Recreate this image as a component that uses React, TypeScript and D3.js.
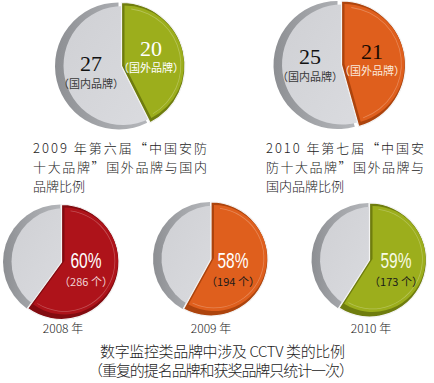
import React from "react";
import * as d3 from "d3";

// ---- data ----
const topForeign = [20, 21];
const topDomestic = [27, 25];
const topForeignLabel = "（国外品牌）";
const topDomesticLabel = "（国内品牌）";
const topCaptions = [
  ["2009 年第六届“中国安防", "十大品牌”国外品牌与国内", "品牌比例"],
  ["2010 年第七届“中国安", "防十大品牌”国外品牌与", "国内品牌比例"],
];
const bottomYears = ["2008 年", "2009 年", "2010 年"];
const bottomPct = [60, 58, 59];
const bottomCount = [286, 194, 173];
const bottomCaption = ["数字监控类品牌中涉及 CCTV 类的比例", "（重复的提名品牌和获奖品牌只统计一次）"];

// ---- styles ----
const OLIVE = ["#9cae1c", "#6f7d0e"];
const ORANGE = ["#df5f1d", "#ad440d"];
const RED = ["#ae131a", "#820b10"];

const serif = "'Liberation Serif', 'DejaVu Serif', serif";
const sans = "'Liberation Sans', Arial, sans-serif";
const cjk = "'Noto Sans CJK SC', 'Noto Sans', sans-serif";

type PieProps = {
  cx: number; cy: number; r: number; values: number[];
  colors: string[]; explode: number; id: string;
};

function Pie3D({ cx, cy, r, values, colors, explode, id }: PieProps) {
  const pie = d3.pie<number>().sort(null).value((d) => d)(values);
  const colored = pie[0];
  const gray = pie[1];
  const sideArc = d3.arc<any>().innerRadius(0).outerRadius(r);
  const grayFace = d3.arc<any>().innerRadius(0).outerRadius(r - 4);
  const colFace = d3.arc<any>().innerRadius(0).outerRadius(r - 4);
  const hlArc = d3.arc<any>().innerRadius(r - 7.5).outerRadius(r - 6.7)
    .startAngle(colored.startAngle + 0.12).endAngle(colored.endAngle - 0.06);
  return (
    <g>
      <defs>
        <linearGradient id={`gs${id}`} x1="0" x2="1" y1="0" y2="0">
          <stop offset="0" stopColor="#8d8f93" />
          <stop offset="0.5" stopColor="#a3a5a9" />
          <stop offset="1" stopColor="#b4b6ba" />
        </linearGradient>
        <linearGradient id={`gf${id}`} x1="0" x2="1" y1="0" y2="1">
          <stop offset="0" stopColor="#cfd0d4" />
          <stop offset="1" stopColor="#dadbdf" />
        </linearGradient>
      </defs>
      <g transform={`translate(${cx},${cy})`}>
        <path d={sideArc(gray) as string} fill={`url(#gs${id})`} />
        <path d={grayFace(gray) as string} transform="translate(4.5,-0.5)" fill={`url(#gf${id})`} />
      </g>
      <g transform={`translate(${cx + explode},${cy})`}>
        <path d={sideArc(colored) as string} fill={colors[1]} stroke="#f4f4f4" strokeWidth={1.2} />
        <path d={colFace(colored) as string} transform="translate(3,-1)" fill={colors[0]} />
        <path d={hlArc(colored as any) as string} transform="translate(3,-1)" fill="#ffffff" opacity={0.25} />
      </g>
    </g>
  );
}

export default function App() {
  const topPies = [
    { cx: 118.5, cy: 66, r: 63.5, colors: OLIVE, explode: 3 },
    { cx: 337.5, cy: 65, r: 64, colors: ORANGE, explode: 4 },
  ];
  const topText = [
    { dx: 91, dy: 71, fx: 151, fy: 56, numCol: "#111", fnumCol: "#fff", flabCol: "#fff" },
    { dx: 310, dy: 64, fx: 372, fy: 59, numCol: "#111", fnumCol: "#1a0a00", flabCol: "#fbe9dc" },
  ];
  const capX = [33, 266];
  const capW = [174, 158];
  const bottomPies = [
    { cx: 60.5, cy: 262, r: 57.5, colors: RED },
    { cx: 210, cy: 259, r: 57, colors: ORANGE },
    { cx: 368.5, cy: 260, r: 57, colors: OLIVE },
  ];
  const bottomText = [
    { x: 86, pctCol: "#fff", cntCol: "#f1d6d6" },
    { x: 233, pctCol: "#fff", cntCol: "#1a1a1a" },
    { x: 396, pctCol: "#f8fbe6", cntCol: "#1a1a1a" },
  ];
  const yearX = [63, 211, 371];

  return (
    <svg width={434} height={383} style={{ position: "absolute", left: 0, top: 0, background: "#fff" }}>
      <rect width={434} height={383} fill="#fff" />
      {topPies.map((p, i) => (
        <Pie3D key={i} id={`t${i}`} cx={p.cx} cy={p.cy} r={p.r}
          values={[topForeign[i], topDomestic[i]]} colors={p.colors} explode={p.explode} />
      ))}
      {topText.map((t, i) => (
        <g key={i}>
          <text x={t.dx} y={t.dy} textAnchor="middle" fontFamily={serif} fontSize={22} fill={t.numCol}>{topDomestic[i]}</text>
          <text x={t.dx} y={t.dy + 17} textAnchor="middle" fontFamily={cjk} fontSize={11} fill="#3a3a3a">{topDomesticLabel}</text>
          <text x={t.fx} y={t.fy} textAnchor="middle" fontFamily={serif} fontSize={22} fill={t.fnumCol}>{topForeign[i]}</text>
          <text x={t.fx} y={t.fy + 16} textAnchor="middle" fontFamily={cjk} fontSize={11} fill={t.flabCol}>{topForeignLabel}</text>
        </g>
      ))}
      {topCaptions.map((lines, i) => (
        <g key={i} fontFamily={cjk} fontSize={13} fill="#222" fontWeight={300}>
          <text x={capX[i]} y={153} textLength={capW[i]} lengthAdjust="spacing">{lines[0]}</text>
          <text x={capX[i]} y={172} textLength={capW[i]} lengthAdjust="spacing">{lines[1]}</text>
          <text x={capX[i]} y={191}>{lines[2]}</text>
        </g>
      ))}
      {bottomPies.map((p, i) => (
        <Pie3D key={i} id={`b${i}`} cx={p.cx} cy={p.cy} r={p.r}
          values={[bottomPct[i], 100 - bottomPct[i]]} colors={p.colors} explode={1} />
      ))}
      {bottomText.map((t, i) => (
        <g key={i}>
          <text x={t.x} y={268} textAnchor="middle" fontFamily={sans} fontSize={22} fill={t.pctCol}
            textLength={31} lengthAdjust="spacingAndGlyphs">{`${bottomPct[i]}%`}</text>
          <text x={t.x} y={286} textAnchor="middle" fontFamily={cjk} fontSize={11} fill={t.cntCol}>{`（${bottomCount[i]} 个）`}</text>
        </g>
      ))}
      {bottomYears.map((y, i) => (
        <text key={i} x={yearX[i]} y={333} textAnchor="middle" fontFamily={cjk} fontSize={12} fill="#222" fontWeight={300}>{y}</text>
      ))}
      <g fontFamily={cjk} fontSize={15} fill="#222" fontWeight={300}>
        <text x={100} y={357} textLength={245} lengthAdjust="spacing">{bottomCaption[0]}</text>
        <text x={88} y={376} textLength={266} lengthAdjust="spacing">{bottomCaption[1]}</text>
      </g>
    </svg>
  );
}
